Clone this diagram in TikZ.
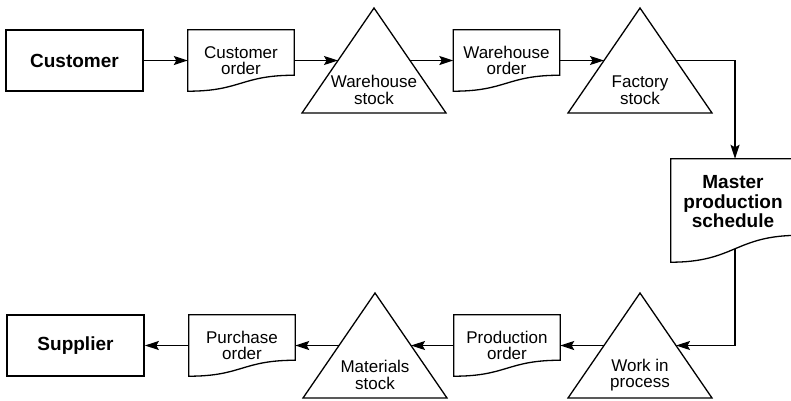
\documentclass[tikz,border=0pt]{standalone}
\usepackage{fontspec}
\setmainfont{Liberation Sans}
\usetikzlibrary{arrows.meta,calc}

\newcommand\regfont{\fontsize{17}{16.5}\selectfont}
\newcommand\boldfont{\fontsize{19}{19.5}\selectfont\bfseries}

\tikzset{
  outline/.style={draw=black, line width=1.3pt, line join=miter},
  flow/.style={line width=1.3pt, -{Stealth[length=14pt,width=9pt,inset=2.5pt]}},
  entity/.style={outline, line width=1.7pt, minimum width=137pt, minimum height=61pt, inner sep=0pt, font=\boldfont},
  docbox/.style={minimum width=106pt, minimum height=61pt, inner sep=0pt, align=center, font=\regfont},
  stocklabel/.style={align=center, font=\regfont, inner sep=0pt},
  headlabel/.style={align=center, font=\boldfont, inner sep=0pt},
}

% document symbol: flat top, wavy bottom rising to the right
\newcommand\docoutline[2][]{%
  \draw[outline,#1] (#2.north west) -- (#2.north east)
    -- ($(#2.north east)!0.74!(#2.south east)$)
    .. controls ($(#2.north)!0.74!(#2.south)$) and (#2.south) .. (#2.south west)
    -- cycle;}

% inventory triangle: name, apex x, apex y, label
\newcommand\stock[4]{%
  \coordinate (#1-top) at (#2,#3);
  \coordinate (#1-l) at ($(#1-top)+(-72,105)$);
  \coordinate (#1-r) at ($(#1-top)+(72,105)$);
  \draw[outline] (#1-top) -- (#1-l) -- (#1-r) -- cycle;
  \coordinate (#1-ls) at ($(#1-top)!0.5!(#1-l)$);
  \coordinate (#1-rs) at ($(#1-top)!0.5!(#1-r)$);
  \node[stocklabel] (#1) at ($(#1-top)+(0,82)$) {#4};}

\begin{document}
\begin{tikzpicture}[x=1pt,y=-1pt]
\useasboundingbox (0,0) rectangle (791,400);

% top row
\node[entity] (customer) at (74.5,60.5) {Customer};
\node[docbox] (custorder) at (241,60.5) {Customer\\order};
\docoutline{custorder}
\stock{ws}{374}{8}{Warehouse\\stock}
\node[docbox] (whorder) at (506.5,60.5) {Warehouse\\order};
\docoutline{whorder}
\stock{fs}{640}{8}{Factory\\stock}

% master production schedule
\node[minimum width=128pt, minimum height=103pt, inner sep=0pt] (mps) at (735,210.5) {};

% bottom row
\node[entity] (supplier) at (75.5,345.5) {Supplier};
\node[docbox] (purchase) at (242,345.5) {Purchase\\order};
\docoutline{purchase}
\stock{ms}{375}{293}{Materials\\stock}
\node[docbox] (prodorder) at (507,345.5) {Production\\order};
\docoutline{prodorder}
\stock{wip}{640}{293}{Work in\\process}

% flows
\draw[flow] (customer) -- (custorder);
\draw[flow] (custorder) -- (ws-ls);
\draw[flow] (ws-rs) -- (whorder);
\draw[flow] (whorder) -- (fs-ls);
\draw[flow] (fs-rs) -| (mps.north);
\draw[flow] (mps.center) |- (wip-rs);
\draw[flow] (wip-ls) -- (prodorder);
\draw[flow] (prodorder) -- (ms-rs);
\draw[flow] (ms-ls) -- (purchase);
\draw[flow] (purchase) -- (supplier);

\docoutline[fill=white]{mps}
\node[headlabel] (mpslabel) at (733,202) {Master\\production\\schedule};
\end{tikzpicture}
\end{document}
